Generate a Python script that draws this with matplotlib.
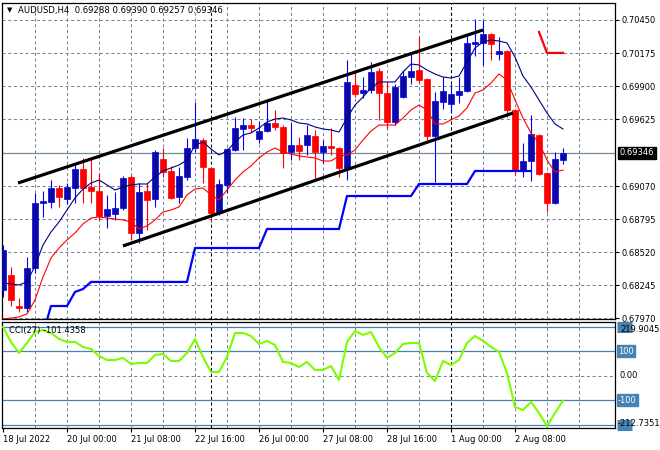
import matplotlib.pyplot as plt
import numpy as np
from matplotlib.patches import Rectangle

# header values
symbol_header = "AUDUSD,H4"
last_ohlc = [0.69288, 0.69390, 0.69257, 0.69346]

# H4 candles, one per bar index 0..70
opens = [
    0.68206, 0.68331, 0.68075, 0.68057, 0.68389, 0.68929, 0.68938, 0.69054,
    0.68963, 0.69054, 0.69212, 0.69062, 0.69029, 0.68821, 0.68838, 0.68888,
    0.69145, 0.68680, 0.69029, 0.68963, 0.69295, 0.69195, 0.68979, 0.69145,
    0.69386, 0.69453, 0.69220, 0.68846, 0.69079, 0.69370, 0.69544, 0.69577,
    0.69461, 0.69528, 0.69594, 0.69561, 0.69353, 0.69411, 0.69411, 0.69486,
    0.69353, 0.69403, 0.69386, 0.69220, 0.69910, 0.69843, 0.69868, 0.70026,
    0.69843, 0.69602, 0.69810, 0.69976, 0.70035, 0.69960, 0.69486, 0.69769,
    0.69752, 0.69827, 0.69860, 0.70251, 0.70259, 0.70334, 0.70167, 0.70192,
    0.69702, 0.69204, 0.69278, 0.69494, 0.69179, 0.68929, 0.69288,
]
highs = [
    0.68580, 0.68397, 0.68140, 0.68481, 0.69012, 0.69029, 0.69120, 0.69079,
    0.69096, 0.69262, 0.69303, 0.69303, 0.69179, 0.68996, 0.69021, 0.69154,
    0.69162, 0.69096, 0.69096, 0.69370, 0.69386, 0.69237, 0.69229, 0.69469,
    0.69769, 0.69469, 0.69230, 0.69129, 0.69386, 0.69644, 0.69636, 0.69627,
    0.69611, 0.69785, 0.69702, 0.69577, 0.69594, 0.69478, 0.69577, 0.69536,
    0.69453, 0.69553, 0.69395, 0.70118, 0.70018, 0.69976, 0.70101, 0.70051,
    0.69935, 0.69918, 0.70035, 0.70176, 0.70309, 0.69968, 0.69852, 0.69976,
    0.69918, 0.69976, 0.70334, 0.70458, 0.70450, 0.70342, 0.70309, 0.70201,
    0.69710, 0.69428, 0.69661, 0.69503, 0.69187, 0.69353, 0.69390,
]
lows = [
    0.68150, 0.68073, 0.68023, 0.68023, 0.68348, 0.68813, 0.68888, 0.68896,
    0.68921, 0.68929, 0.68929, 0.68929, 0.68788, 0.68722, 0.68788, 0.68871,
    0.68622, 0.68597, 0.68705, 0.68896, 0.69145, 0.68963, 0.68929, 0.69120,
    0.69353, 0.69096, 0.68771, 0.68830, 0.69012, 0.69361, 0.69370, 0.69520,
    0.69428, 0.69519, 0.69536, 0.69220, 0.69287, 0.69287, 0.69328, 0.69120,
    0.69262, 0.69328, 0.69145, 0.69120, 0.69810, 0.69802, 0.69843, 0.69619,
    0.69544, 0.69577, 0.69802, 0.69918, 0.69926, 0.69453, 0.69104, 0.69710,
    0.69677, 0.69760, 0.69852, 0.70151, 0.70076, 0.70118, 0.70118, 0.69644,
    0.69162, 0.69145, 0.69112, 0.69162, 0.68854, 0.68921, 0.69257,
]
closes = [
    0.68539, 0.68123, 0.68054, 0.68389, 0.68929, 0.68946, 0.69054, 0.68979,
    0.69062, 0.69212, 0.69054, 0.69029, 0.68821, 0.68879, 0.68888, 0.69137,
    0.68680, 0.69021, 0.68954, 0.69353, 0.69187, 0.68971, 0.69154, 0.69386,
    0.69461, 0.69229, 0.68846, 0.69087, 0.69378, 0.69553, 0.69577, 0.69553,
    0.69528, 0.69594, 0.69561, 0.69345, 0.69411, 0.69361, 0.69494, 0.69353,
    0.69403, 0.69386, 0.69220, 0.69935, 0.69835, 0.69868, 0.70018, 0.69843,
    0.69602, 0.69893, 0.69985, 0.70026, 0.69951, 0.69486, 0.69777, 0.69860,
    0.69835, 0.69860, 0.70259, 0.70267, 0.70334, 0.70251, 0.70192, 0.69702,
    0.69195, 0.69278, 0.69503, 0.69170, 0.68929, 0.69295, 0.69346,
]

# indicators
ma_fast = [
    0.68264, 0.68256, 0.68248, 0.68273, 0.68406, 0.68580, 0.68688, 0.68771,
    0.68871, 0.68971, 0.69045, 0.69095, 0.69120, 0.69079, 0.69037, 0.69062,
    0.69079, 0.69087, 0.69087, 0.69145, 0.69195, 0.69220, 0.69245, 0.69286,
    0.69411, 0.69436, 0.69378, 0.69328, 0.69361, 0.69436, 0.69494, 0.69511,
    0.69552, 0.69602, 0.69627, 0.69635, 0.69619, 0.69594, 0.69586, 0.69561,
    0.69544, 0.69536, 0.69519, 0.69635, 0.69743, 0.69810, 0.69885, 0.69935,
    0.69935, 0.69935, 0.70018, 0.70084, 0.70076, 0.70034, 0.70001, 0.69976,
    0.69968, 0.69984, 0.70101, 0.70217, 0.70267, 0.70284, 0.70275, 0.70259,
    0.70142, 0.69984, 0.69893, 0.69785, 0.69677, 0.69586, 0.69544,
]
ma_slow = [
    0.67965, 0.67973, 0.67982, 0.68007, 0.68123, 0.68314, 0.68472, 0.68555,
    0.68622, 0.68680, 0.68755, 0.68804, 0.68813, 0.68804, 0.68796, 0.68788,
    0.68771, 0.68713, 0.68738, 0.68788, 0.68854, 0.68871, 0.68896, 0.68996,
    0.69045, 0.69054, 0.68996, 0.68954, 0.69037, 0.69120, 0.69187, 0.69237,
    0.69303, 0.69353, 0.69386, 0.69353, 0.69336, 0.69320, 0.69311, 0.69303,
    0.69278, 0.69278, 0.69320, 0.69328, 0.69370, 0.69453, 0.69527, 0.69577,
    0.69577, 0.69577, 0.69635, 0.69702, 0.69743, 0.69702, 0.69586, 0.69586,
    0.69619, 0.69652, 0.69719, 0.69843, 0.69868, 0.69926, 0.70001, 0.69951,
    0.69785, 0.69635, 0.69511, 0.69428, 0.69286, 0.69187, 0.69203,
]
nan = np.nan
stop_up = [
    nan, nan, nan, nan, nan, 0.67841, 0.68073, 0.68073,
    0.68073, 0.68190, 0.68214, 0.68273, 0.68273, 0.68273, 0.68273, 0.68273,
    0.68273, 0.68273, 0.68273, 0.68273, 0.68273, 0.68273, 0.68273, 0.68273,
    0.68555, 0.68555, 0.68555, 0.68555, 0.68555, 0.68555, 0.68555, 0.68555,
    0.68555, 0.68713, 0.68713, 0.68713, 0.68713, 0.68713, 0.68713, 0.68713,
    0.68713, 0.68713, 0.68713, 0.68987, 0.68987, 0.68987, 0.68987, 0.68987,
    0.68987, 0.68987, 0.68987, 0.68987, 0.69087, 0.69087, 0.69087, 0.69087,
    0.69087, 0.69087, 0.69087, 0.69195, 0.69195, 0.69195, 0.69195, 0.69195,
    0.69195, 0.69195, 0.69195, nan, nan, nan, nan,
]
stop_down = [nan] * 67 + [0.70350, 0.70176, 0.70176, 0.70176]

cci = [
    200.0, 138.4, 93.5, 134.3, 179.2, 187.4, 175.1, 150.6,
    138.4, 138.4, 118.0, 109.8, 81.2, 64.9, 64.9, 73.1,
    48.6, 52.7, 52.7, 85.3, 89.4, 60.8, 60.8, 93.5,
    150.6, 77.1, 15.9, 15.9, 77.1, 175.1, 175.1, 162.9,
    130.2, 142.5, 126.1, 56.7, 52.7, 36.3, 56.7, 24.1,
    24.1, 40.4, -16.7, 138.4, 183.3, 167.0, 179.2, 118.0,
    73.1, 93.5, 130.2, 134.3, 134.3, 11.8, -20.8, 60.8,
    44.5, 64.9, 134.3, 162.9, 142.5, 118.0, 97.6, 11.8,
    -127.0, -139.2, -106.5, -151.4, -205.0, -151.4, -101.4358,
]
cci_label = "CCI(27) -101.4358"
cci_max = 219.9045
cci_min = -212.7351
cci_levels = [200, 100, -100, -200]

# trend channel anchors (bar index, price)
upper_bars = [1.875, 60.0]
upper_prices = [0.69095, 0.70367]
lower_bars = [15.0, 63.75]
lower_prices = [0.68572, 0.69677]

price_levels = [0.70450, 0.70175, 0.69900, 0.69625, 0.69070,
                0.68795, 0.68520, 0.68245, 0.67970]
bid_price = 0.69346
time_labels = ["18 Jul 2022", "20 Jul 00:00", "21 Jul 08:00", "22 Jul 16:00",
               "26 Jul 00:00", "27 Jul 08:00", "28 Jul 16:00", "1 Aug 00:00",
               "2 Aug 08:00"]
label_bars = [0, 8, 16, 24, 32, 40, 48, 56, 64]
week_breaks = [26, 56]

GRID = "#778899"
LEVEL = "#4682B4"
BULL_BODY = "#0A0AA0"
BULL_WICK = "#0000FF"
BEAR = "#FF0000"

plt.rcParams["font.family"] = "DejaVu Sans"

fig = plt.figure(figsize=(6.6, 4.5), dpi=100)
W, H = 660, 450
ax = fig.add_axes([2 / W, 1 - 319 / H, 613 / W, 316 / H])
ax_cci = fig.add_axes([2 / W, 1 - 428 / H, 613 / W, 106 / H])

x = np.arange(len(opens))
o = np.array(opens)
h = np.array(highs)
l = np.array(lows)
c = np.array(closes)
up = c >= o

xlim = (-0.125, 76.5)
grid_bars = np.arange(4, 76, 4)
dash = (0, (3, 2.5))

for a in (ax, ax_cci):
    a.set_xlim(*xlim)
    for b in grid_bars:
        a.axvline(b, color=GRID, lw=0.75, ls=dash, zorder=1)
    for b in week_breaks:
        a.axvline(b, color="black", lw=0.75, ls=dash, zorder=2)
    for s in a.spines.values():
        s.set_color("black")
        s.set_linewidth(0.9)

# main panel
ax.set_ylim(0.67965, 0.70591)
for p in price_levels:
    ax.axhline(p, color=GRID, lw=0.75, ls=dash, zorder=1)
ax.axhline(bid_price, color=GRID, lw=0.9, zorder=1.5)

ax.vlines(x[up], l[up], h[up], color=BULL_WICK, lw=0.8, zorder=3)
ax.vlines(x[~up], l[~up], h[~up], color=BEAR, lw=0.8, zorder=3)
body = np.maximum(np.abs(c - o), 0.00009)
ax.bar(x[up], body[up], bottom=np.minimum(o, c)[up], width=0.65,
       color=BULL_BODY, edgecolor=BULL_WICK, lw=0.5, zorder=3.1)
ax.bar(x[~up], body[~up], bottom=np.minimum(o, c)[~up], width=0.65,
       color=BEAR, edgecolor=BEAR, lw=0.5, zorder=3.1)

ax.plot(x, ma_fast, color="#000080", lw=0.8, zorder=4)
ax.plot(x, ma_slow, color="#FF0000", lw=0.8, zorder=4)
ax.plot(x, stop_up, color="#0000FF", lw=1.6, zorder=4)
ax.plot(x, stop_down, color="#FF0000", lw=1.6, zorder=4)
ax.plot(upper_bars, upper_prices, color="black", lw=2.3,
        solid_capstyle="butt", zorder=5)
ax.plot(lower_bars, lower_prices, color="black", lw=2.3,
        solid_capstyle="butt", zorder=5)

ax.yaxis.tick_right()
ax.set_yticks(price_levels)
ax.set_yticklabels([f"{p:.5f}" for p in price_levels])
ax.tick_params(axis="y", length=3, width=0.8, pad=2, labelsize=6,
               colors="black")
ax.set_xticks([])

ytrans = ax.get_yaxis_transform()
ax.annotate(f"{bid_price:.5f}", xy=(1, bid_price), xycoords=ytrans,
            xytext=(5, 0), textcoords="offset pixels", ha="left",
            va="center", fontsize=6, color="white",
            bbox=dict(facecolor="black", edgecolor="black", pad=1.2),
            annotation_clip=False)

fig.text(7 / W, 1 - 10 / H, "▼", fontsize=5, ha="left", va="center")
header = f"{symbol_header}  " + " ".join(f"{v:.5f}" for v in last_ohlc)
fig.text(18 / W, 1 - 10 / H, header, fontsize=6.1, ha="left", va="center")

# CCI panel
ax_cci.set_ylim(cci_min, cci_max)
ax_cci.axhline(0, color=GRID, lw=0.75, ls=dash, zorder=1)
for lv in cci_levels:
    ax_cci.axhline(lv, color=LEVEL, lw=0.9, zorder=1.5)
ax_cci.plot(x, cci, color="#7CFC00", lw=1.5, zorder=4)
ax_cci.text(7 / 613, 1 - 9 / 106, cci_label, transform=ax_cci.transAxes,
            fontsize=6.0, ha="left", va="center", zorder=6)

ax_cci.set_yticks([])
ctrans = ax_cci.get_yaxis_transform()
box = dict(facecolor=LEVEL, edgecolor=LEVEL, pad=1.0)
for lv in (100, -100):
    ax_cci.annotate(f"{lv}", xy=(1, lv), xycoords=ctrans, xytext=(3, 0),
                    textcoords="offset pixels", ha="left", va="center",
                    fontsize=6, color="white", bbox=box,
                    annotation_clip=False)
# the +-200 level tags sit behind the max / min readouts
for lv in (200, -200):
    ax_cci.add_patch(Rectangle((1 + 2 / 613, lv), 15 / 613, 0, transform=ctrans,
                               clip_on=False, facecolor=LEVEL,
                               edgecolor=LEVEL, lw=8, zorder=1))
ax_cci.annotate("0.00", xy=(1, 0), xycoords=ctrans, xytext=(5, 0),
                textcoords="offset pixels", ha="left", va="center",
                fontsize=6, annotation_clip=False)
ax_cci.annotate(f"{cci_max:.4f}", xy=(1, cci_max), xycoords=ctrans,
                xytext=(5, -7), textcoords="offset pixels", ha="left",
                va="center", fontsize=6, annotation_clip=False)
ax_cci.annotate(f"{cci_min:.4f}", xy=(1, cci_min), xycoords=ctrans,
                xytext=(3, 5), textcoords="offset pixels", ha="left",
                va="center", fontsize=6, annotation_clip=False)

ax_cci.set_xticks(label_bars)
ax_cci.set_xticklabels(time_labels, ha="left")
ax_cci.tick_params(axis="x", length=3, width=0.8, pad=2, labelsize=6,
                   colors="black")

fig.savefig("out.png", dpi=100, facecolor="white")
